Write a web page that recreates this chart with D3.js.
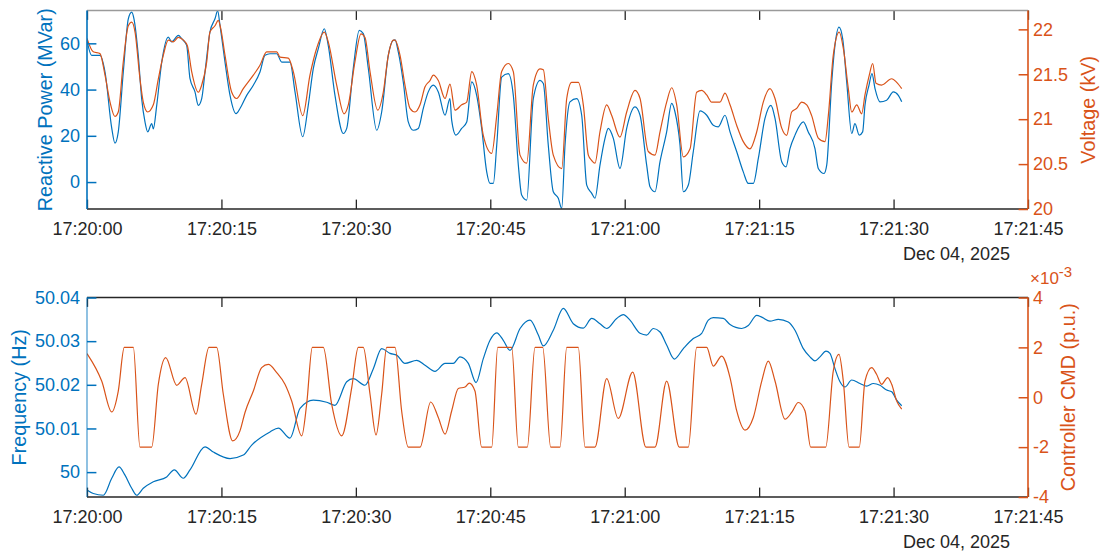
<!DOCTYPE html>
<html><head><meta charset="utf-8">
<script src="https://cdn.jsdelivr.net/npm/d3@7"></script>
<style>
html,body{margin:0;padding:0;background:#fff;}
svg text{font-family:"Liberation Sans",Arial,Helvetica,sans-serif;}
</style></head>
<body><svg id="c" width="1100" height="553"></svg>
<script>
// ---------- DATA (time offset in seconds from 17:20:00, value) ----------
const reactivePower = [[0,61.3],[0.52,54.8],[1.45,54.8],[2.01,47.6],[2.76,23.3],[3.12,16.8],[3.49,21.7],[4.05,47.6],[4.61,70.6],[4.99,73.5],[5.24,70.6],[5.72,54.8],[6.1,36.1],[6.47,26],[6.77,21.7],[7.22,25.3],[7.4,23],[7.78,33.2],[8.34,51.9],[9.07,62.7],[9.45,60.6],[10.19,63.4],[10.57,62],[11.12,59.1],[11.49,44.8],[12.05,39],[12.42,33.2],[12.8,36.1],[13.17,47.6],[13.72,64.9],[14.28,70.6],[14.58,74],[14.84,67.8],[15.4,51.9],[15.96,37.5],[16.63,29.6],[17.07,31.8],[17.82,37.5],[18.56,41.9],[19.3,47.6],[19.86,54.8],[20.42,55.5],[21.17,55.5],[21.73,51.9],[22.65,51.9],[23.21,39],[24.07,19.6],[24.69,33.2],[25.25,49.1],[25.81,57.7],[26.48,66.3],[26.92,59.1],[27.67,37.5],[28.6,21],[28.98,23.2],[29.71,49.1],[30.38,65.6],[30.83,64.2],[31.39,49.1],[32.33,22.4],[32.88,30.3],[33.62,54.8],[34.18,61.3],[34.37,61.5],[34.74,56.2],[35.29,43.3],[35.85,26],[36.41,22.4],[36.97,23.2],[37.52,31.8],[38.08,39],[38.64,41.9],[39.2,39],[39.95,28.9],[40.5,36.1],[40.69,26.8],[41.17,20.3],[41.81,23.2],[42.37,26],[42.93,43.3],[43.48,37.5],[44.04,23.2],[44.6,4.4],[44.97,-0.6],[45.34,-0.6],[45.72,16],[46.27,45.4],[47.01,46.9],[47.57,37.5],[48.13,7.3],[48.5,-5.6],[49.06,-7.8],[49.8,36.1],[50.55,44],[50.92,42.6],[51.47,16],[52.03,-4.2],[52.59,-7],[52.97,-11.3],[53.34,16],[53.89,34.7],[54.64,36.1],[55.2,28.9],[55.76,-1.3],[56.32,-4.9],[56.68,-7],[57.24,7.3],[57.8,18.9],[58.17,23.2],[58.73,18.9],[59.47,5.9],[60.22,23.2],[61.15,32.5],[61.71,28.9],[62.45,7.3],[62.82,-2],[63.38,-4.2],[63.94,8.8],[64.68,21.7],[65.24,34],[65.61,30.3],[66.17,16],[66.54,-4.2],[67.1,-1.3],[67.65,13.1],[68.4,30.8],[69.15,28.9],[69.88,24.6],[70.44,23.9],[71.19,28.9],[71.75,21.7],[72.5,13.1],[73.23,4.4],[73.79,-0.6],[74.35,-0.6],[74.91,10.2],[75.65,27.5],[76.32,33.2],[76.77,27.5],[77.52,8.8],[78,6.6],[78.44,14.5],[79,20.3],[79.93,26],[80.48,21.7],[81.23,14.5],[81.6,5.9],[82.24,3.7],[82.54,7.3],[83.1,43.3],[83.46,59.1],[83.91,67],[84.32,62],[84.77,43.3],[85.33,21],[85.69,25.3],[86.17,20.3],[86.55,21.7],[86.81,33.2],[87.26,41.9],[87.59,46.9],[87.93,40.4],[88.48,34.7],[89.23,35.4],[89.97,39],[90.53,37.5],[90.91,34.7]];

const voltage = [[0,21.9],[0.7,21.75],[1.45,21.73],[2.01,21.49],[2.57,21.19],[3.12,21.03],[3.49,21.08],[4.05,21.64],[4.61,22.04],[4.99,22.08],[5.36,21.97],[5.91,21.45],[6.28,21.19],[6.77,21.08],[7.4,21.16],[7.96,21.45],[8.51,21.71],[9.07,21.88],[9.63,21.86],[10.19,21.91],[10.75,21.88],[11.19,21.82],[11.68,21.53],[12.42,21.3],[12.8,21.38],[13.36,21.64],[13.72,21.97],[14.28,22.04],[14.65,22.1],[14.92,22.01],[15.4,21.71],[16.15,21.3],[16.7,21.23],[17.44,21.34],[18.56,21.49],[19.3,21.6],[20.05,21.75],[21.17,21.75],[21.54,21.69],[22.46,21.68],[23.02,21.53],[24.07,21.04],[24.88,21.49],[25.63,21.79],[26.48,21.97],[26.92,21.86],[27.86,21.38],[28.68,21.06],[29.16,21.16],[29.9,21.64],[30.57,21.95],[31.02,21.91],[31.58,21.53],[32.44,21.1],[33.06,21.3],[33.62,21.71],[34.18,21.88],[34.37,21.88],[34.93,21.71],[35.48,21.38],[36.04,21.12],[36.6,21.08],[37.16,21.16],[37.72,21.36],[38.27,21.43],[38.64,21.49],[39.2,21.43],[39.95,21.23],[40.5,21.39],[41.06,21.1],[41.81,21.16],[42.37,21.19],[42.93,21.53],[43.48,21.38],[44.22,20.82],[45.16,20.62],[45.72,21.04],[46.27,21.53],[47.01,21.62],[47.57,21.53],[48.32,20.6],[49.06,20.51],[49.8,21.38],[50.55,21.56],[50.92,21.55],[51.47,21.01],[52.03,20.6],[52.97,20.45],[53.53,21.23],[54.08,21.41],[54.82,21.41],[55.38,21.16],[55.94,20.6],[56.32,20.54],[56.68,20.51],[57.24,20.86],[57.99,21.16],[58.55,21.04],[59.47,20.8],[60.22,21.08],[61.15,21.32],[61.71,21.23],[62.63,20.64],[63.38,20.6],[63.94,20.86],[64.68,21.19],[65.24,21.35],[65.8,21.16],[66.54,20.58],[67.29,20.67],[68.03,21.3],[68.59,21.32],[69.15,21.27],[69.71,21.19],[70.63,21.19],[71.19,21.29],[71.75,21.16],[72.5,20.93],[73.23,20.75],[73.98,20.67],[74.73,20.86],[75.46,21.19],[76.21,21.34],[76.77,21.23],[77.52,20.9],[78.07,20.82],[78.63,21.08],[79.19,21.12],[79.75,21.19],[80.31,21.16],[80.86,21.04],[81.6,20.79],[82.35,20.75],[82.72,21.04],[83.27,21.71],[83.94,21.97],[84.39,21.79],[84.95,21.34],[85.33,21.08],[85.89,21.16],[86.44,21.06],[86.81,21.27],[87.29,21.49],[87.67,21.62],[88.04,21.4],[88.67,21.38],[89.79,21.45],[90.35,21.41],[90.91,21.34]];

const frequency = [[0,49.9959],[0.7,49.9951],[1.82,49.9947],[2.76,49.9986],[3.57,50.0012],[4.24,49.9993],[4.99,49.9963],[5.55,49.9947],[6.28,49.9963],[7.4,49.9978],[8.89,49.9989],[9.74,50.0005],[10.75,49.9986],[11.49,50.0005],[13.17,50.0058],[14.09,50.0046],[15.96,50.0031],[17.44,50.0039],[18.38,50.0062],[20.42,50.0092],[21.35,50.0101],[22.65,50.0078],[23.77,50.0146],[25.25,50.0165],[26.75,50.016],[27.67,50.0153],[28.98,50.0207],[29.71,50.0214],[31.02,50.0199],[31.95,50.0237],[32.88,50.0283],[33.81,50.0272],[34.56,50.0268],[35.48,50.0249],[36.79,50.0256],[37.72,50.0245],[38.83,50.0231],[39.95,50.0249],[40.87,50.0249],[41.62,50.0264],[42.55,50.0249],[43.41,50.0205],[44.22,50.026],[44.97,50.0302],[45.72,50.0319],[46.45,50.0302],[47.2,50.0279],[48.32,50.0329],[49.43,50.0348],[50.36,50.0314],[50.92,50.0289],[52.03,50.0325],[53.15,50.0375],[54.26,50.034],[55.38,50.033],[56.32,50.0352],[57.24,50.034],[57.99,50.0329],[59.1,50.0352],[59.84,50.0361],[60.59,50.0348],[61.71,50.0318],[62.45,50.0314],[63.19,50.0329],[63.94,50.0321],[64.68,50.0291],[65.53,50.0259],[66.54,50.0283],[67.65,50.0306],[68.59,50.0318],[69.33,50.0348],[69.88,50.0354],[71,50.0352],[71.75,50.0338],[73.05,50.0329],[73.79,50.0336],[74.73,50.0359],[75.29,50.0355],[76.21,50.0346],[77.14,50.035],[78.25,50.0344],[79,50.0325],[79.93,50.0283],[80.67,50.0264],[81.23,50.0255],[81.79,50.0264],[82.46,50.0277],[82.9,50.0272],[83.46,50.0237],[84.02,50.0207],[84.58,50.0195],[85.33,50.0211],[86.25,50.0203],[87,50.0197],[87.74,50.0203],[88.48,50.0199],[89.23,50.0188],[89.79,50.0184],[90.35,50.0165],[90.91,50.0152]];

// Controller command in units of 1e-3 p.u.
const controllerCmd = [[0,1.75],[1.64,0.65],[2.76,-0.59],[3.49,0.25],[4.16,2],[5.17,2],[5.91,-2],[7.22,-2],[7.96,0.52],[8.78,1.59],[10.01,0.48],[10.94,0.79],[12.16,-0.68],[12.8,0.52],[13.61,2],[14.47,2],[15.21,0.12],[16.26,-1.75],[17.07,-1.35],[17.63,-0.61],[18.56,0.25],[19.49,1.19],[20.23,1.32],[21.17,0.99],[22.09,0.52],[22.84,-0.15],[23.96,-1.55],[24.51,-0.28],[25.14,2],[26.37,2],[27.3,-0.28],[28.42,-1.55],[29.54,0.39],[30.27,2],[30.83,2],[31.58,0.12],[32.25,-1.51],[32.88,0.12],[33.44,2],[34.37,2],[35.11,-0.55],[35.85,-2],[37.16,-2],[38.35,-0.19],[39.2,-0.81],[39.95,-1.48],[40.69,-0.55],[41.43,0.35],[42.18,0.41],[42.66,0.57],[43.29,0.25],[44.04,-2],[45.16,-2],[45.83,2],[47.39,2],[48.13,-2],[49.13,-2],[49.99,2],[50.85,2],[51.74,-2],[52.78,-2],[53.53,2],[54.82,2],[55.57,-2],[56.68,-2],[57.99,0.75],[59.28,-0.85],[60.89,1.01],[62.37,-2],[63.38,-2],[64.68,0.65],[66.09,-2],[67.1,-2],[68.03,2],[69.15,2],[69.88,1.25],[70.82,1.65],[71.75,0.79],[72.5,-0.55],[73.42,-1.32],[74.35,-0.81],[75.29,0.65],[76.02,1.45],[76.77,0.65],[77.89,-0.88],[78.63,-0.61],[79.37,-0.21],[80.12,-0.55],[80.75,-2],[82.43,-2],[83.27,1.05],[83.91,1.72],[84.39,0.65],[85.03,-2],[86.17,-2],[86.81,0.65],[87.56,1.19],[88.1,0.92],[88.67,0.52],[89.34,0.79],[89.79,0.52],[90.35,-0.15],[90.91,-0.48]];

const qTicks = [0, 20, 40, 60];
const vTicks = [20, 20.5, 21, 21.5, 22];
const fTicks = [50, 50.01, 50.02, 50.03, 50.04];
const cTicks = [-4, -2, 0, 2, 4];
const dateLabel = "Dec 04, 2025";

// ---------- SETUP ----------
const BLUE = "#0072BD", ORANGE = "#D95319", DARK = "#262626";
const base = new Date(2025, 11, 4, 17, 20, 0);
const toDate = s => new Date(base.getTime() + s * 1000);
const svg = d3.select("#c");
const X0 = 87, X1 = 1028;
const x = d3.scaleTime().domain([toDate(0), toDate(105)]).range([X0, X1]);
const tickLen = 9.4;
const fmt = d3.timeFormat("%H:%M:%S");

function panel(cfg) {
  const {top, bottom, leftDomain, rightDomain, leftTicks, rightTicks, leftFmt, rightFmt,
         leftData, rightData, leftLabel, rightLabel, leftLabelX, rightLabelX, topLineColor,
         leftAxisOpacity, id} = cfg;
  const yL = d3.scaleLinear().domain(leftDomain).range([bottom, top]);
  const yR = d3.scaleLinear().domain(rightDomain).range([bottom, top]);
  const g = svg.append("g");
  g.append("clipPath").attr("id", id).append("rect")
    .attr("x", X0).attr("y", top).attr("width", X1 - X0).attr("height", bottom - top);

  // lines
  const lineL = d3.line().x(d => x(toDate(d[0]))).y(d => yL(d[1])).curve(d3.curveMonotoneX);
  const lineR = d3.line().x(d => x(toDate(d[0]))).y(d => yR(d[1])).curve(d3.curveMonotoneX);
  const lg = g.append("g").attr("clip-path", `url(#${id})`);
  lg.append("path").attr("d", lineL(leftData)).attr("fill", "none").attr("stroke", BLUE).attr("stroke-width", 1.2);
  lg.append("path").attr("d", lineR(rightData)).attr("fill", "none").attr("stroke", ORANGE).attr("stroke-width", 1.2);

  // bottom x axis
  const xb = g.append("g").attr("transform", `translate(0,${bottom})`)
    .call(d3.axisBottom(x).ticks(d3.timeSecond.every(15)).tickFormat(fmt)
      .tickSizeInner(-tickLen).tickSizeOuter(0).tickPadding(13));
  xb.select(".domain").remove();
  xb.selectAll("line").attr("stroke", DARK).attr("stroke-width", 1.3);
  xb.selectAll("text").attr("fill", DARK).style("font-size", "18px");
  // top x axis (ticks only)
  const xt = g.append("g").attr("transform", `translate(0,${top})`)
    .call(d3.axisTop(x).ticks(d3.timeSecond.every(15)).tickFormat("")
      .tickSizeInner(-tickLen).tickSizeOuter(0));
  xt.select(".domain").remove();
  xt.selectAll("line").attr("stroke", DARK).attr("stroke-width", 1.3);
  // box lines
  g.append("line").attr("x1", X0).attr("x2", X1).attr("y1", bottom).attr("y2", bottom).attr("stroke", DARK).attr("stroke-width", 1.3);
  g.append("line").attr("x1", X0).attr("x2", X1).attr("y1", top).attr("y2", top).attr("stroke", topLineColor).attr("stroke-width", 1.3);

  // left axis
  const al = g.append("g").attr("transform", `translate(${X0},0)`)
    .call(d3.axisLeft(yL).tickValues(leftTicks).tickFormat(leftFmt)
      .tickSizeInner(-tickLen).tickSizeOuter(0).tickPadding(7));
  al.select(".domain").remove();
  al.selectAll("line").attr("stroke", BLUE).attr("stroke-width", 1.5);
  al.selectAll("text").attr("fill", BLUE).style("font-size", "18px");
  g.append("line").attr("x1", X0).attr("x2", X0).attr("y1", top).attr("y2", bottom)
    .attr("stroke", BLUE).attr("stroke-width", 1.6).attr("stroke-opacity", leftAxisOpacity);

  // right axis
  const ar = g.append("g").attr("transform", `translate(${X1},0)`)
    .call(d3.axisRight(yR).tickValues(rightTicks).tickFormat(rightFmt)
      .tickSizeInner(-tickLen).tickSizeOuter(0).tickPadding(5));
  ar.select(".domain").remove();
  ar.selectAll("line").attr("stroke", ORANGE).attr("stroke-width", 1.5);
  ar.selectAll("text").attr("fill", ORANGE).style("font-size", "18px");
  g.append("line").attr("x1", X1).attr("x2", X1).attr("y1", top).attr("y2", bottom)
    .attr("stroke", ORANGE).attr("stroke-width", 1.6);

  // axis labels
  const cy = (top + bottom) / 2;
  g.append("text").attr("transform", `translate(${leftLabelX},${cy}) rotate(-90)`)
    .attr("text-anchor", "middle").attr("fill", BLUE).style("font-size", "19.8px").text(leftLabel);
  g.append("text").attr("transform", `translate(${rightLabelX},${cy}) rotate(-90)`)
    .attr("text-anchor", "middle").attr("fill", ORANGE).style("font-size", "19.8px").text(rightLabel);

  // date label
  g.append("text").attr("x", 1010).attr("y", bottom + 51).attr("text-anchor", "end")
    .attr("fill", DARK).style("font-size", "18px").text(dateLabel);
  return g;
}

panel({
  id: "clipTop", top: 10.5, bottom: 209,
  leftDomain: [-11.65, 74.2], rightDomain: [20, 22.21],
  leftTicks: qTicks, rightTicks: vTicks,
  leftFmt: d3.format("d"), rightFmt: d => String(d),
  leftData: reactivePower, rightData: voltage,
  leftLabel: "Reactive Power (MVar)", rightLabel: "Voltage (kV)",
  leftLabelX: 52, rightLabelX: 1095, topLineColor: "#9a9a9a", leftAxisOpacity: 1
});

const bot = panel({
  id: "clipBot", top: 297.5, bottom: 497,
  leftDomain: [49.9943, 50.04], rightDomain: [-4, 4],
  leftTicks: fTicks, rightTicks: cTicks,
  leftFmt: d => String(+d.toFixed(2)), rightFmt: d => String(d),
  leftData: frequency, rightData: controllerCmd,
  leftLabel: "Frequency (Hz)", rightLabel: "Controller CMD (p.u.)",
  leftLabelX: 26, rightLabelX: 1075, topLineColor: DARK, leftAxisOpacity: 0.55
});

// exponent label
const ex = bot.append("text").attr("x", 1030).attr("y", 284).attr("fill", ORANGE).style("font-size", "17px");
ex.append("tspan").text("\u00D710");
ex.append("tspan").attr("dy", -7).style("font-size", "15px").text("-3");
</script></body></html>
